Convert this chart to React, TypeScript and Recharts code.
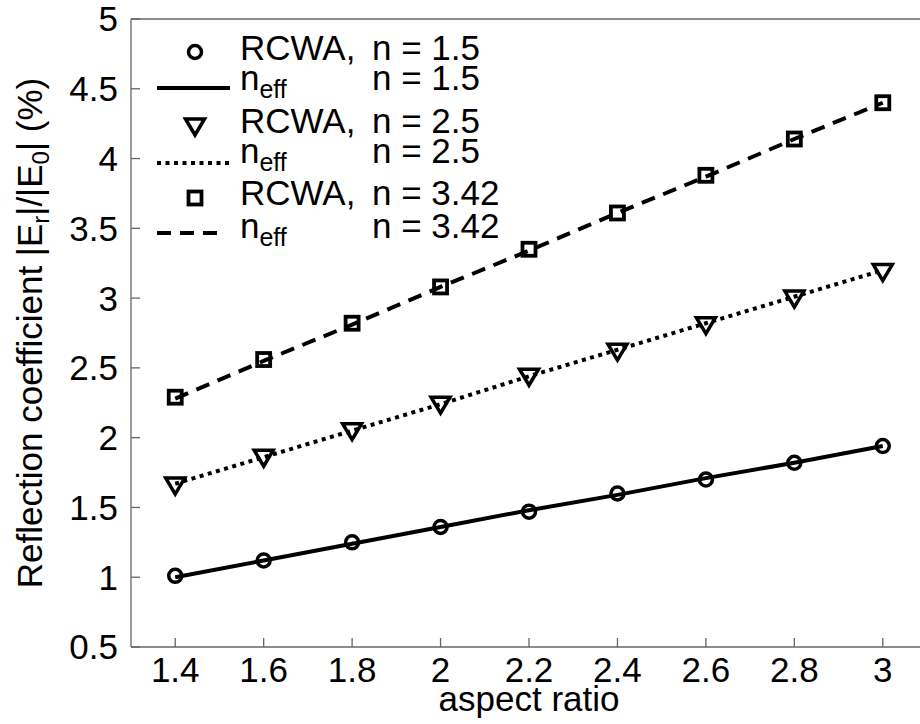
import React from "react"
import { LineChart, Line, XAxis, YAxis } from "recharts"

// aspect ratio samples
const aspectRatio = [1.4, 1.6, 1.8, 2.0, 2.2, 2.4, 2.6, 2.8, 3.0]

// RCWA results (markers)
const rcwa15 = [1.01, 1.12, 1.25, 1.36, 1.47, 1.6, 1.7, 1.82, 1.94]
const rcwa25 = [1.66, 1.86, 2.05, 2.24, 2.44, 2.62, 2.81, 3.0, 3.19]
const rcwa342 = [2.29, 2.56, 2.82, 3.08, 3.35, 3.61, 3.88, 4.14, 4.4]

// effective index model (lines)
const neff15 = [1.0, 1.12, 1.24, 1.36, 1.48, 1.59, 1.71, 1.82, 1.94]
const neff25 = [1.67, 1.86, 2.05, 2.24, 2.44, 2.63, 2.82, 3.01, 3.2]
const neff342 = [2.28, 2.55, 2.81, 3.08, 3.34, 3.61, 3.87, 4.14, 4.4]

const xTicks = [1.4, 1.6, 1.8, 2, 2.2, 2.4, 2.6, 2.8, 3]
const yTicks = [0.5, 1, 1.5, 2, 2.5, 3, 3.5, 4, 4.5, 5]

const rows = aspectRatio.map((x, i) => ({
  x,
  rcwa15: rcwa15[i],
  rcwa25: rcwa25[i],
  rcwa342: rcwa342[i],
  neff15: neff15[i],
  neff25: neff25[i],
  neff342: neff342[i],
}))

const AXIS = "#666"
const FONT = "'Liberation Sans', Arial, Helvetica, sans-serif"
const FS = 35

function CircleDot({ cx, cy }: any) {
  if (cx == null || cy == null) return null
  return <circle cx={cx} cy={cy} r={6.5} fill="none" stroke="#000" strokeWidth={3.5} />
}

function TriangleDot({ cx, cy }: any) {
  if (cx == null || cy == null) return null
  return (
    <path
      d={`M${cx - 9.5},${cy - 7}L${cx + 9.5},${cy - 7}L${cx},${cy + 9}Z`}
      fill="none"
      stroke="#000"
      strokeWidth={3.5}
    />
  )
}

function SquareDot({ cx, cy }: any) {
  if (cx == null || cy == null) return null
  return <rect x={cx - 6.5} y={cy - 6.5} width={13} height={13} fill="none" stroke="#000" strokeWidth={3.8} />
}

function LegendBox() {
  const rowText = (y: number, first: React.ReactNode, second: string) => (
    <>
      <text x={240} y={y} fontSize={FS} fill="#000">{first}</text>
      <text x={372} y={y} fontSize={FS} fill="#000">{second}</text>
    </>
  )
  const neff = (
    <>
      n<tspan fontSize={25} dy={8}>eff</tspan>
    </>
  )
  return (
    <svg
      width={520}
      height={260}
      style={{ position: "absolute", left: 0, top: 0, display: "block", fontFamily: FONT, pointerEvents: "none" }}
    >
      <CircleDot cx={195} cy={52} />
      {rowText(60, "RCWA,", "n = 1.5")}
      <line x1={157} x2={230} y1={88} y2={88} stroke="#000" strokeWidth={4} />
      {rowText(90, neff, "n = 1.5")}
      <TriangleDot cx={195} cy={126} />
      {rowText(133, "RCWA,", "n = 2.5")}
      <line x1={157} x2={230} y1={163} y2={163} stroke="#000" strokeWidth={4} strokeDasharray="4 4.5" />
      {rowText(163, neff, "n = 2.5")}
      <SquareDot cx={195} cy={198} />
      {rowText(205, "RCWA,", "n = 3.42")}
      <line x1={157} x2={222} y1={233} y2={233} stroke="#000" strokeWidth={4} strokeDasharray="14 9" />
      {rowText(238, neff, "n = 3.42")}
    </svg>
  )
}

function YLabel({ viewBox }: any) {
  const cy = viewBox.y + viewBox.height / 2
  const x = 42
  return (
    <text
      x={x}
      y={cy}
      transform={`rotate(-90, ${x}, ${cy})`}
      textAnchor="middle"
      fontSize={FS}
      fill="#000"
    >
      Reflection coefficient |E<tspan fontSize={24} dy={7}>r</tspan>
      <tspan dy={-7}>|/|E</tspan>
      <tspan fontSize={24} dy={7}>0</tspan>
      <tspan dy={-7}>| (%)</tspan>
    </text>
  )
}

function XLabel({ viewBox }: any) {
  return (
    <text x={viewBox.x + viewBox.width / 2} y={viewBox.y + 64} textAnchor="middle" fontSize={FS} fill="#000">
      aspect ratio
    </text>
  )
}

export default function App() {
  return (
    <div
      style={{
        position: "absolute",
        left: 0,
        top: 0,
        width: 920,
        height: 724,
        overflow: "hidden",
        background: "#fff",
        fontFamily: FONT,
      }}
    >
      <LineChart width={940} height={724} data={rows} margin={{ top: 18, right: 12, bottom: 0, left: 0 }}>
        <XAxis
          dataKey="x"
          type="number"
          domain={[1.3, 3.1]}
          ticks={xTicks}
          interval={0}
          allowDataOverflow
          height={77}
          tickSize={-9}
          tickMargin={19}
          stroke={AXIS}
          strokeWidth={1.3}
          tick={{ fill: "#000", fontSize: FS }}
          label={<XLabel />}
        />
        <XAxis
          xAxisId="top"
          orientation="top"
          type="number"
          domain={[1.3, 3.1]}
          ticks={xTicks}
          interval={0}
          allowDataOverflow
          height={1}
          tickSize={-9}
          tick={false}
          stroke={AXIS}
          strokeWidth={1.3}
        />
        <YAxis
          type="number"
          domain={[0.5, 5]}
          ticks={yTicks}
          interval={0}
          allowDataOverflow
          width={131}
          tickSize={-9}
          tickMargin={22}
          stroke={AXIS}
          strokeWidth={1.3}
          tick={{ fill: "#000", fontSize: FS }}
          label={<YLabel />}
        />
        <YAxis
          yAxisId="right"
          orientation="right"
          type="number"
          domain={[0.5, 5]}
          ticks={yTicks}
          interval={0}
          allowDataOverflow
          width={1}
          tickSize={-9}
          tick={false}
          stroke={AXIS}
          strokeWidth={1.3}
        />
        <Line dataKey="neff15" stroke="#000" strokeWidth={4} dot={false} activeDot={false} isAnimationActive={false} />
        <Line dataKey="neff25" stroke="#000" strokeWidth={4} strokeDasharray="4 4.5" dot={false} activeDot={false} isAnimationActive={false} />
        <Line dataKey="neff342" stroke="#000" strokeWidth={4} strokeDasharray="14 9" dot={false} activeDot={false} isAnimationActive={false} />
        <Line dataKey="rcwa15" stroke="none" dot={<CircleDot />} activeDot={false} isAnimationActive={false} />
        <Line dataKey="rcwa25" stroke="none" dot={<TriangleDot />} activeDot={false} isAnimationActive={false} />
        <Line dataKey="rcwa342" stroke="none" dot={<SquareDot />} activeDot={false} isAnimationActive={false} />
      </LineChart>
      <LegendBox />
    </div>
  )
}
